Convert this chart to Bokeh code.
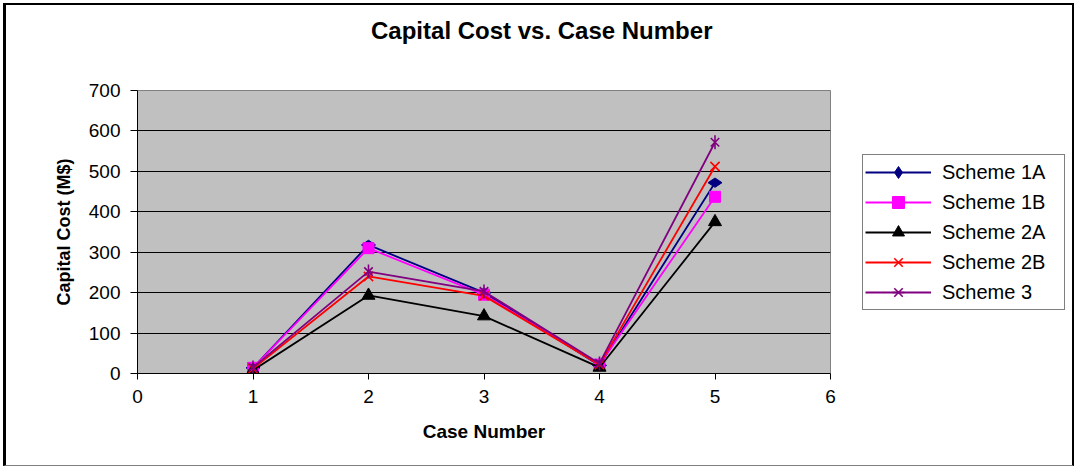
import numpy as np
from bokeh.plotting import figure
from bokeh.layouts import row
from bokeh.models import Range1d, FixedTicker, Legend, LegendItem, LinearAxis
from bokeh.embed import file_html
from bokeh.resources import INLINE

# Capital cost (M$) of each scheme for cases 1-5
case_numbers = [1, 2, 3, 4, 5]
scheme_1a = [14, 318, 200, 20, 472]
scheme_1b = [14, 310, 195, 22, 437]
scheme_2a = [8, 193, 142, 15, 375]
scheme_2b = [12, 240, 192, 22, 512]
scheme_3 = [15, 252, 203, 25, 572]

series_names = ["Scheme 1A", "Scheme 1B", "Scheme 2A", "Scheme 2B", "Scheme 3"]
x_ticks = [0, 1, 2, 3, 4, 5, 6]
y_ticks = [0, 100, 200, 300, 400, 500, 600, 700]
chart_title = "Capital Cost vs. Case Number"
title_center_x = 3.5   # x position (case units) of the chart-area centre

FONT = "Liberation Sans"
H = 460

# ---- main chart -----------------------------------------------------------
p = figure(
    width=844, height=H,
    output_backend="svg", toolbar_location=None,
    x_range=Range1d(0, 6), y_range=Range1d(0, 700),
    min_border_left=131, min_border_right=20,
    min_border_top=85, min_border_bottom=92,
    background_fill_color="#C0C0C0", border_fill_color="white",
    outline_line_color="#808080", outline_line_width=1,
)
p.title.text = ""
p.title.visible = False

p.xaxis.ticker = FixedTicker(ticks=x_ticks)
p.yaxis.ticker = FixedTicker(ticks=y_ticks)
for ax in (p.xaxis, p.yaxis):
    ax.axis_line_color = "black"
    ax.major_tick_line_color = "black"
    ax.minor_tick_line_color = None
    ax.major_tick_in = 0
    ax.major_label_text_font = FONT
    ax.major_label_text_font_size = "19px"
    ax.major_label_text_color = "black"
    ax.axis_label_text_font = FONT
    ax.axis_label_text_font_style = "bold"
    ax.axis_label_text_color = "black"
p.xaxis.major_tick_out = 6
p.yaxis.major_tick_out = 7
p.xaxis.major_label_standoff = 10
p.yaxis.major_label_standoff = 10
p.xaxis.axis_label = "Case Number"
p.yaxis.axis_label = "Capital Cost (M$)"
p.xaxis.axis_label_text_font_size = "19px"
p.yaxis.axis_label_text_font_size = "18px"
p.xaxis.axis_label_standoff = 15
p.yaxis.axis_label_standoff = 12

# Chart title: a single labelled tick on a bare top axis, so that it sits
# centred over the whole chart area rather than over the plot area
title_axis = LinearAxis(
    ticker=FixedTicker(ticks=[title_center_x]),
    major_label_overrides={title_center_x: chart_title},
    axis_line_color=None,
    major_tick_line_color=None,
    minor_tick_line_color=None,
    major_tick_out=0,
    major_tick_in=0,
    major_label_standoff=47,
    major_label_text_font=FONT,
    major_label_text_font_size="24px",
    major_label_text_font_style="bold",
    major_label_text_color="black",
)
p.add_layout(title_axis, "above")

p.xgrid.visible = False
p.ygrid.grid_line_color = "black"
p.ygrid.grid_line_width = 1

LW = 1.8
STYLE = {
    "Scheme 1A": dict(color="#000080", marker="diamond", size=14, angle=np.pi / 2),
    "Scheme 1B": dict(color="#FF00FF", marker="square", size=11, angle=0.0),
    "Scheme 2A": dict(color="black", marker="triangle", size=13, angle=0.0),
    "Scheme 2B": dict(color="#FF0000", marker="x", size=13, angle=0.0),
    "Scheme 3": dict(color="#800080", marker="x", size=12, angle=0.0),
}


def draw_series(fig, xs, ys, name):
    st = STYLE[name]
    rs = [fig.line(xs, ys, line_color=st["color"], line_width=LW)]
    filled = st["marker"] in ("diamond", "square", "triangle")
    rs.append(fig.scatter(xs, ys, marker=st["marker"], size=st["size"], angle=st["angle"],
                          fill_color=st["color"] if filled else None,
                          line_color=st["color"], line_width=1.0 if filled else 1.6))
    if name == "Scheme 3":
        # six-armed star: vertical bar through the x
        rs.append(fig.scatter(xs, ys, marker="dash", size=14, angle=np.pi / 2,
                              line_color=st["color"], line_width=1.6))
    return rs


all_series = [scheme_1a, scheme_1b, scheme_2a, scheme_2b, scheme_3]
for name, values in zip(series_names, all_series):
    draw_series(p, case_numbers, values, name)

# ---- legend panel ---------------------------------------------------------
# The same series are plotted here far outside the visible ranges, so that
# only their legend swatches appear in this panel.
lf = figure(
    width=222, height=H,
    output_backend="svg", toolbar_location=None,
    x_range=Range1d(100, 101), y_range=Range1d(0, 700),
    x_axis_location=None, y_axis_location=None,
    min_border=0, outline_line_color=None,
    background_fill_color="white", border_fill_color="white",
)
lf.title.text = ""
lf.title.visible = False
lf.grid.visible = False

items = []
for name, values in zip(series_names, all_series):
    items.append(LegendItem(label=name, renderers=draw_series(lf, case_numbers, values, name)))

legend = Legend(
    items=items,
    location=(12, 63),
    margin=0,
    padding=2,
    spacing=0,
    glyph_width=66,
    glyph_height=30,
    label_height=30,
    label_width=120,
    label_standoff=11,
    label_text_font=FONT,
    label_text_font_size="20px",
    label_text_color="black",
    border_line_color="black",
    border_line_width=1,
    background_fill_color="white",
    background_fill_alpha=1.0,
)
lf.add_layout(legend)

layout = row(
    p, lf,
    styles={
        "border-left": "3px solid black",
        "border-top": "2px solid black",
        "border-right": "2px solid black",
        "border-bottom": "1px solid #808080",
        "margin": "3px 0 0 3px",
    },
)

open("out.html", "w").write(file_html(layout, INLINE))
